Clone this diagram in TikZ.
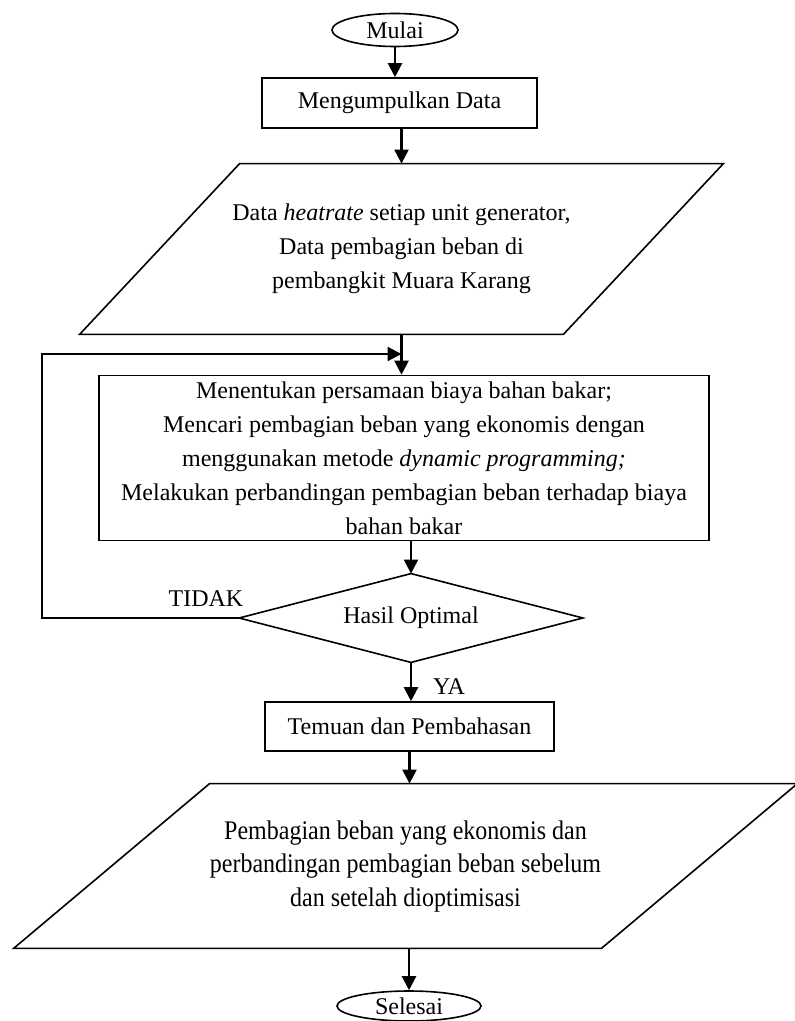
\documentclass[tikz,border=0pt]{standalone}
\usepackage{fontspec}
\setmainfont{Liberation Serif}
\usetikzlibrary{shapes.geometric,arrows.meta,calc}
\begin{document}
\begin{tikzpicture}[x=0.5pt,y=-0.5pt,
  every node/.style={font=\fontsize{12}{17}\selectfont},
  arr/.style={-{Triangle[length=7pt,width=7pt]}, line width=1.1pt},
  shp/.style={line width=0.8pt},
  term/.style={ellipse, draw, shp, inner sep=0pt},
  proc/.style={rectangle, draw, shp, inner sep=0pt, align=center},
  io/.style={rectangle, inner sep=0pt, align=center}]
\useasboundingbox (0,0) rectangle (794,1021);
% nodes
\node[term, minimum width=63pt, minimum height=16.5pt] (start) at (395,30) {Mulai};
\node[proc, minimum width=137.5pt, minimum height=25pt] (m1) at (399.5,103) {Mengumpulkan Data};
\node[io, minimum width=321.5pt, minimum height=85pt] (p1) at (401.5,249)
  {Data \textit{heatrate} setiap unit generator,\\ Data pembagian beban di\\ pembangkit Muara Karang};
\draw[shp] ([xshift=80pt]p1.north west) -- (p1.north east) -- ([xshift=-80pt]p1.south east) -- (p1.south west) -- cycle;
\node[proc, minimum width=305pt, minimum height=82.5pt] (b) at (404,458)
  {Menentukan persamaan biaya bahan bakar;\\
   Mencari pembagian beban yang ekonomis dengan\\
   menggunakan metode \textit{dynamic programming;}\\
   Melakukan perbandingan pembagian beban terhadap biaya\\
   bahan bakar};
\node[io, minimum width=171.5pt, minimum height=44pt] (d) at (411,618) {Hasil Optimal};
\draw[shp] (d.north) -- (d.east) -- (d.south) -- (d.west) -- cycle;
\node[proc, minimum width=144.5pt, minimum height=24.5pt] (t) at (409.5,726.5) {Temuan dan Pembahasan};
\node[io, minimum width=391.5pt, minimum height=82pt] (p2) at (405.5,866)
  {\scalebox{1}[1.12]{\fontsize{12}{15}\selectfont\begin{tabular}{@{}c@{}}Pembagian beban yang ekonomis dan\\ perbandingan pembagian beban sebelum\\ dan setelah dioptimisasi\end{tabular}}};
\draw[shp] ([xshift=98pt]p2.north west) -- (p2.north east) -- ([xshift=-98pt]p2.south east) -- (p2.south west) -- cycle;
\node[term, minimum width=72pt, minimum height=15pt] (end) at (409,1006) {Selesai};
\node (tidak) at (206,599) {TIDAK};
\node (ya) at (449,687) {YA};
\coordinate (lp) at (42,354);
\coordinate (j) at (401.5,354);
% connectors
\draw[arr] (start.south) -- (start.south |- m1.north);
\draw[arr] (m1.south -| p1.south) -- (p1.north);
\draw[arr] (p1.south) -- (p1.south |- b.north);
\draw[arr] (d.west) -- (d.west -| lp) |- (j);
\draw[arr] (d.north |- b.south) -- (d.north);
\draw[arr] (d.south) -- (d.south |- t.north);
\draw[arr] (t.south) -- (t.south |- p2.north);
\draw[arr] (p2.south -| end.north) -- (end.north);
\end{tikzpicture}
\end{document}
